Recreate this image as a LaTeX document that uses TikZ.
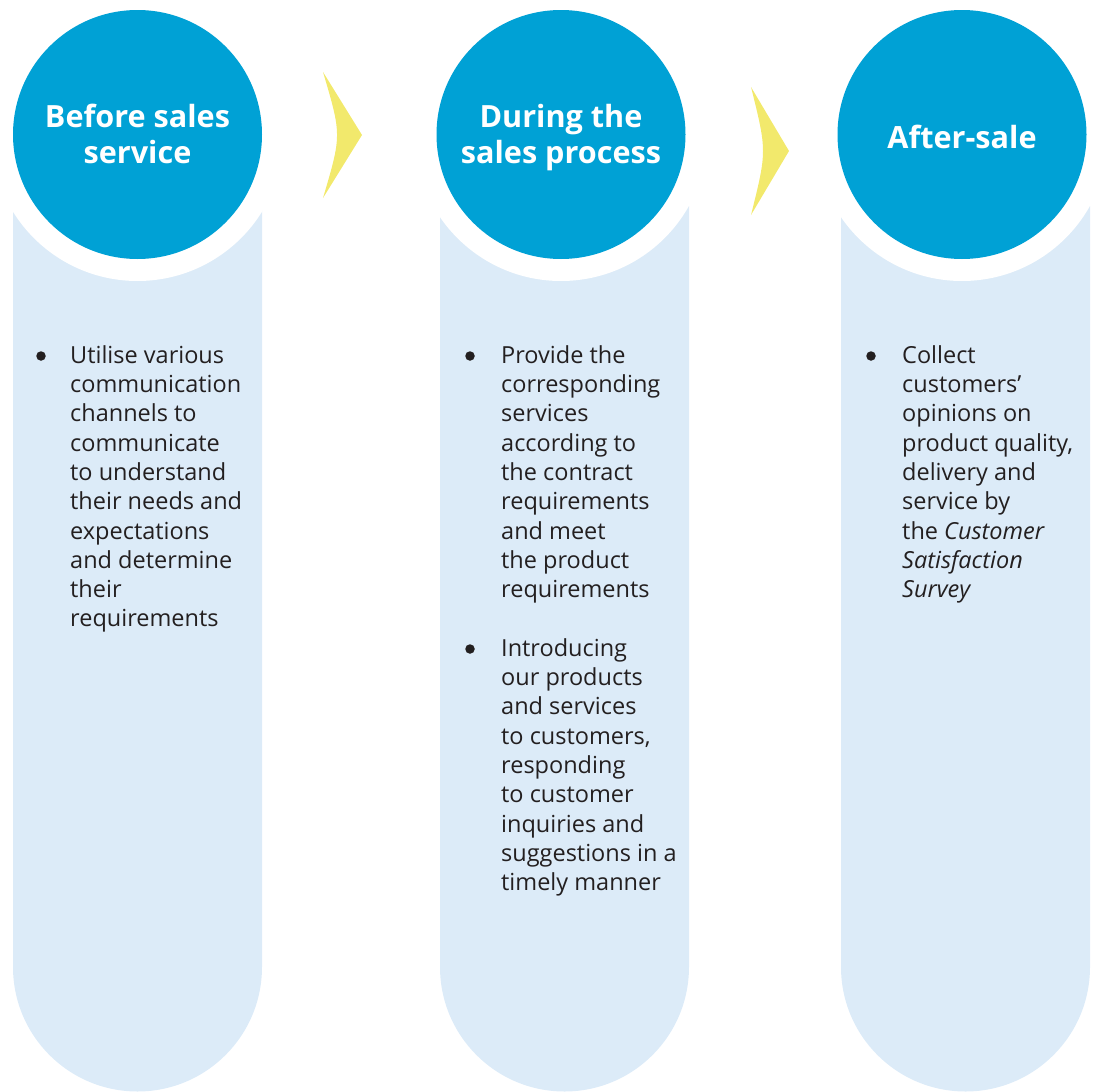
\documentclass[tikz,border=0pt]{standalone}
\usepackage{fontspec}
\setmainfont{Open Sans}
\definecolor{stageblue}{RGB}{0,161,213}
\definecolor{panelblue}{RGB}{220,235,248}
\definecolor{arrowyellow}{RGB}{242,233,108}
\definecolor{bodytext}{RGB}{35,31,32}

\begin{document}
\begin{tikzpicture}[x=1pt,y=-1pt,
  panel/.style={fill=panelblue,draw=none},
  halo/.style={circle,fill=white,draw=none,minimum size=293pt,inner sep=0},
  stage/.style={circle,fill=stageblue,draw=none,minimum size=249pt,inner sep=0},
  title/.style={text=white,font=\fontsize{30.6}{36}\selectfont\bfseries,align=center,anchor=north,inner sep=0},
  body/.style={text=bodytext,font=\fontsize{23.5}{29.3}\selectfont,align=left,anchor=north west,inner sep=0},
  dot/.style={circle,fill=bodytext,draw=none,minimum size=9.5pt,inner sep=0},
  chevron/.style={fill=arrowyellow,draw=none}]
\useasboundingbox (0,0) rectangle (1096,1092);

% light panels with rounded bottoms
\fill[panel] (13,206) -- (13,967) arc[start angle=180,end angle=0,radius=124.5] -- (262,206) -- cycle;
\fill[panel] (440,206) -- (440,967) arc[start angle=180,end angle=0,radius=124.5] -- (689,206) -- cycle;
\fill[panel] (841,206) -- (841,967) arc[start angle=180,end angle=0,radius=124.5] -- (1090,206) -- cycle;

% stage discs with a white halo
\node[halo] (halo1) at (137.5,134.5) {};
\node[halo] (halo2) at (561,134.5) {};
\node[halo] (halo3) at (962,134.5) {};
\node[stage] (stage1) at (137.5,134.5) {};
\node[stage] (stage2) at (561,134.5) {};
\node[stage] (stage3) at (962,134.5) {};

\node[title] (title1) at (137.5,101.8) {\strut Before sales\\service};
\node[title] (title2) at (561,101.8) {\strut During the\\sales process};
\node[title] (title3) at (962,122.8) {\strut After-sale};

% arrows between stages
\fill[chevron] (323,72) -- (362,135) -- (323,198) .. controls (341.7,135) .. (323,72) -- cycle;
\fill[chevron] (751,87) -- (789,151) -- (751,215) .. controls (767,151) .. (751,87) -- cycle;

% bullet lists
\node[dot] (dot1) at (41,356) {};
\node[body] (text1) at (70,342.5) {\strut Utilise various\\communication\\channels to\\communicate\\to understand\\their needs and\\expectations\\and determine\\their\\requirements};

\node[dot] (dot2a) at (470,356) {};
\node[dot] (dot2b) at (470,649) {};
\node[body] (text2) at (501,342.5) {\strut Provide the\\corresponding\\services\\according to\\the contract\\requirements\\and meet\\the product\\requirements\\[29.3pt]Introducing\\our products\\and services\\to customers,\\responding\\to customer\\inquiries and\\suggestions in a\\timely manner};

\node[dot] (dot3) at (871,356) {};
\node[body] (text3) at (902,342.5) {\strut Collect\\customers’\\opinions on\\product quality,\\delivery and\\service by\\the \textit{Customer}\\\textit{Satisfaction}\\\textit{Survey}};
\end{tikzpicture}
\end{document}
